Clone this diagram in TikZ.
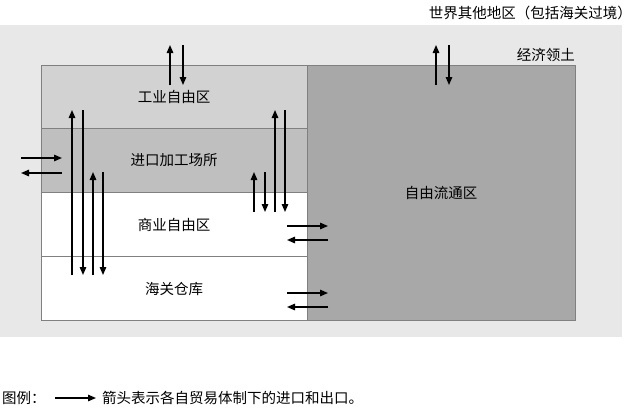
\documentclass[tikz,border=0pt]{standalone}
\usepackage{fontspec}
\setmainfont{Noto Sans CJK SC}
\usetikzlibrary{arrows.meta}
\begin{document}
\begin{tikzpicture}[x=1pt,y=-1pt,
  ar/.style={-{Triangle[length=8pt,width=6.5pt]},line width=1.4pt},
  lbl/.style={font=\fontsize{14.5}{16}\selectfont,inner sep=0pt}]
\useasboundingbox (0,0) rectangle (642,415);
\fill[white] (0,0) rectangle (642,415);
\fill[gray!18] (0,25) rectangle (622,337);
\draw[gray,fill=gray!35] (41,65) rectangle (307,128);
\draw[gray,fill=gray!50] (41,128) rectangle (307,192);
\draw[gray,fill=white] (41,192) rectangle (307,256);
\draw[gray,fill=white] (41,256) rectangle (307,320);
\draw[gray,fill=gray!68] (307,65) rectangle (575,320);
\node[lbl] (z1) at (174,97) {工业自由区};
\node[lbl] (z2) at (174,160) {进口加工场所};
\node[lbl] (z3) at (174,225) {商业自由区};
\node[lbl] (z4) at (174,289) {海关仓库};
\node[lbl] (z5) at (441,193) {自由流通区};
\node[lbl,anchor=east] (w) at (632,13) {世界其他地区（包括海关过境）};
\node[lbl,anchor=east] (e) at (575,55) {经济领土};
\node[lbl,anchor=west] (lg) at (2,398) {图例：};
\node[lbl,anchor=west] (lt) at (102,398) {箭头表示各自贸易体制下的进口和出口。};
\coordinate (la) at (55,398); \coordinate (lb) at (96,398);
\draw[ar] (la) -- (lb);
\foreach \xa/\xb/\ya/\yb in {170/183/85/45, 72/83/275/110, 93/103/275/172, 275/285/212/110, 254/265/212/172, 436/449/85/45}{
  \draw[ar] (\xa,\ya) -- (\xa,\yb);
  \draw[ar] (\xb,\yb) -- (\xb,\ya);
}
\foreach \xa/\xb/\ya/\yb in {21/62/158/173, 287/328/226/240, 287/328/293/307}{
  \draw[ar] (\xa,\ya) -- (\xb,\ya);
  \draw[ar] (\xb,\yb) -- (\xa,\yb);
}
\end{tikzpicture}
\end{document}
